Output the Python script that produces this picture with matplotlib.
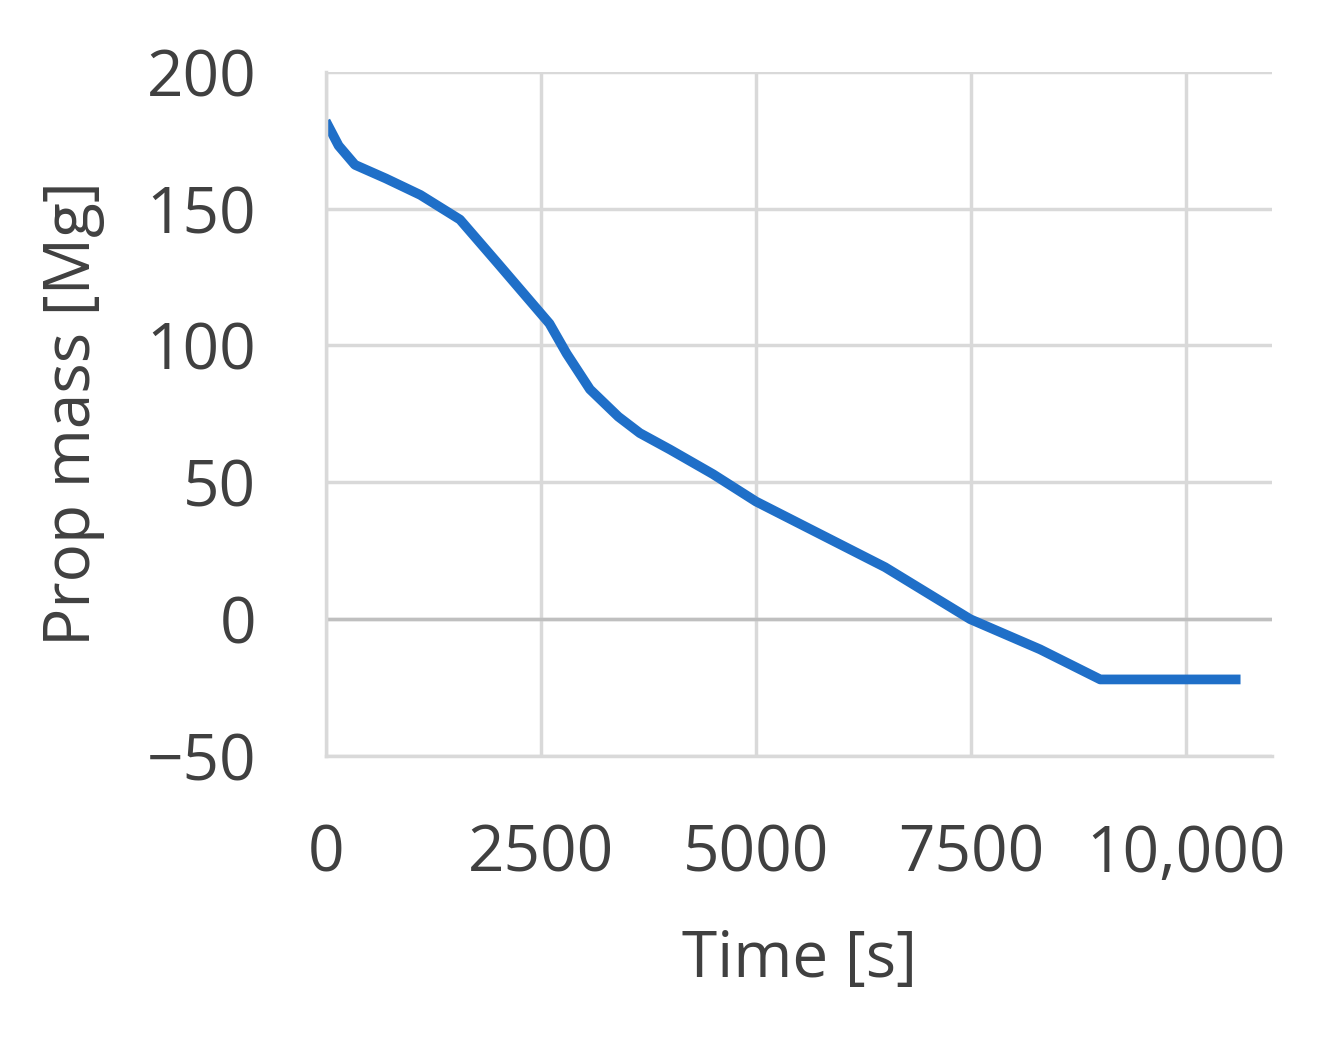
import matplotlib
matplotlib.use("Agg")
import matplotlib.pyplot as plt
from matplotlib.ticker import FuncFormatter

time_s = [0, 150, 340, 700, 1100, 1560, 2000, 2600, 2800, 3070, 3400, 3650, 4000, 4500, 5000, 5500, 6500, 7490, 8300, 9000, 9600, 10630]
prop_mass = [182, 173, 166, 161, 155, 146, 130, 108, 97, 84, 74, 68, 62, 53, 43, 35, 19, 0, -11, -22, -22, -22]

plt.rcParams['font.family'] = ['Open Sans', 'DejaVu Sans']
fig = plt.figure(figsize=(13.24, 10.4), dpi=100)
ax = fig.add_axes([0.246, 0.273, 0.715, 0.658])
ax.plot(time_s, prop_mass, color='#1f6fc8', lw=7, solid_capstyle='butt', solid_joinstyle='round')
ax.set_xlim(0, 11000)
ax.set_ylim(-50, 200)
ax.set_xticks([0, 2500, 5000, 7500, 10000])
ax.set_yticks([-50, 0, 50, 100, 150, 200])
ax.xaxis.set_major_formatter(FuncFormatter(lambda v, p: f"{int(v):,}" if v >= 10000 else f"{int(v)}"))
ax.yaxis.set_major_formatter(FuncFormatter(lambda v, p: f"\u2212{abs(int(v))}" if v < 0 else f"{int(v)}"))
ax.grid(True, color='#d9d9d9', lw=2.5)
ax.axhline(0, color='#bfbfbf', lw=2.5, zorder=1)
for s in ['top', 'right']:
    ax.spines[s].set_visible(False)
ax.spines['left'].set_color('#d9d9d9'); ax.spines['left'].set_linewidth(2.5)
ax.spines['bottom'].set_color('#d9d9d9'); ax.spines['bottom'].set_linewidth(2.5)
ax.tick_params(length=0, labelsize=46, colors='#404040')
ax.tick_params(axis='x', pad=48)
ax.tick_params(axis='y', pad=50)
ax.set_axisbelow(True)
ax.set_xlabel('Time [s]', fontsize=46, color='#404040', labelpad=30)
ax.set_ylabel('Prop mass [Mg]', fontsize=46, color='#404040', labelpad=30)
fig.savefig('out.png', dpi=100)
